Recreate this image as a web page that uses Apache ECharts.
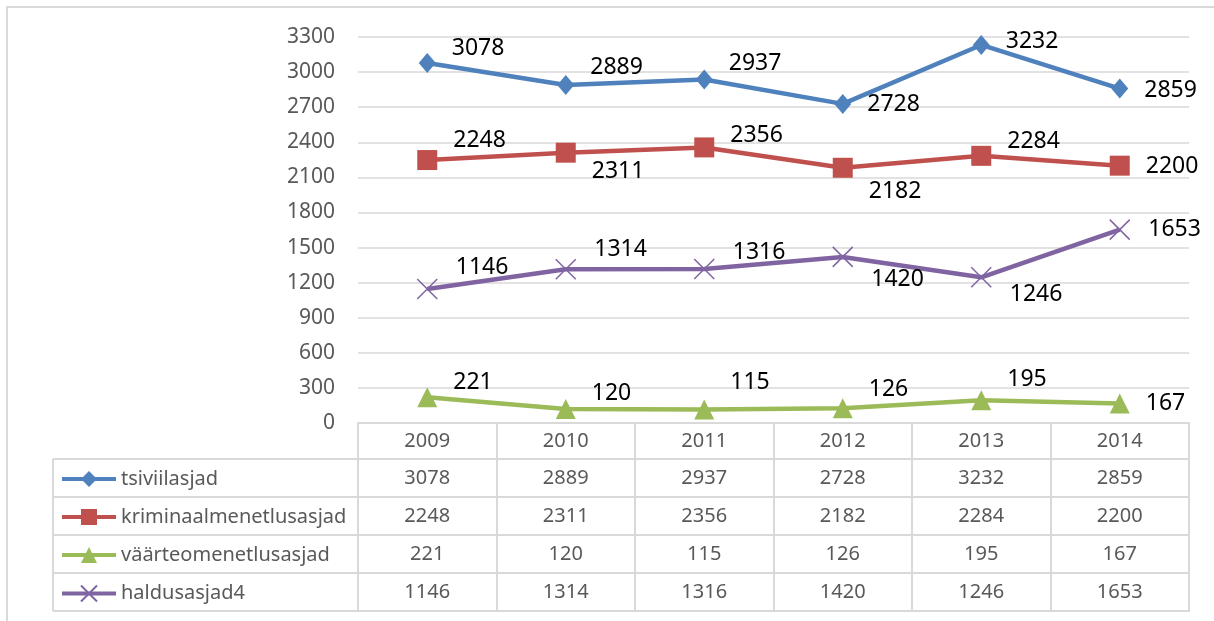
<!DOCTYPE html>
<html>
<head>
<meta charset="utf-8">
<script src="https://cdn.jsdelivr.net/npm/echarts@6/dist/echarts.min.js"></script>
<style>
html,body{margin:0;padding:0;background:#fff;}
#main{width:1214px;height:621px;}
</style>
</head>
<body>
<div id="main"></div>
<script>
var years = ['2009', '2010', '2011', '2012', '2013', '2014'];
var names = ['tsiviilasjad', 'kriminaalmenetlusasjad', 'väärteomenetlusasjad', 'haldusasjad4'];
var tsiviil = [3078, 2889, 2937, 2728, 3232, 2859];
var kriminaal = [2248, 2311, 2356, 2182, 2284, 2200];
var vaarteo = [221, 120, 115, 126, 195, 167];
var haldus = [1146, 1314, 1316, 1420, 1246, 1653];
var yTicks = { min: 0, max: 3300, step: 300 };

// label vertical nudges
var shiftT = [-15, -18, -16, 1, -4, 2];
var shiftK = [-20, 19, -12, 24, -14, 1];
var shiftV = [-15, -16, -27, -19, -21, 0];
var shiftH = [-21, -20, -17, 23, 17, 0];

var grey = '#595959', lineGrey = '#D9D9D9';
var font = 'Noto Sans';

function pts(vals, shift){
  var out = [];
  for(var i=0;i<vals.length;i++){
    out.push({ value: vals[i], label: { offset: [0, shift[i]] } });
  }
  return out;
}

function mkSeries(name, vals, shift, color, symbol, size, extra){
  var s = {
    name: name,
    type: 'line',
    data: pts(vals, shift),
    symbol: symbol,
    symbolSize: size,
    lineStyle: { color: color, width: 4.5 },
    itemStyle: { color: color },
    label: {
      show: true, position: 'right', distance: 16,
      color: '#000', fontSize: 23, fontFamily: font
    },
    emphasis: { disabled: true },
    z: 3
  };
  if(extra){ for(var k in extra) s[k] = extra[k]; }
  return s;
}

var rows = [tsiviil, kriminaal, vaarteo, haldus];
var rowOffsets = [37, 75, 113, 151];

var xAxes = [{
  type: 'category', data: years, gridIndex: 0, position: 'bottom',
  axisLine: { show: true, lineStyle: { color: lineGrey, width: 2 } },
  axisTick: { show: true, interval: 0, length: 189, lineStyle: { color: lineGrey, width: 2 } },
  axisLabel: { interval: 0, margin: 18, verticalAlign: 'middle', color: grey, fontSize: 20, fontFamily: font },
  splitLine: { show: false }
}];
rows.forEach(function(r, idx){
  xAxes.push({
    type: 'category', data: years, position: 'bottom', offset: rowOffsets[idx],
    axisLine: { show: false }, axisTick: { show: false }, splitLine: { show: false },
    axisLabel: {
      interval: 0, margin: 18, verticalAlign: 'middle', color: grey, fontSize: 20, fontFamily: font,
      formatter: function(v, i){ return String(r[i]); }
    }
  });
});

var tableLines = [];
[459, 497, 535, 573, 611].forEach(function(y){
  tableLines.push({ type: 'line', shape: { x1: 53, y1: y, x2: 1189, y2: y }, style: { stroke: lineGrey, lineWidth: 2 } });
});
tableLines.push({ type: 'line', shape: { x1: 53, y1: 459, x2: 53, y2: 611 }, style: { stroke: lineGrey, lineWidth: 2 } });
tableLines.push({ type: 'rect', shape: { x: 7, y: 7, width: 1300, height: 700 }, style: { fill: 'none', stroke: lineGrey, lineWidth: 2 } });

var option = {
  animation: false,
  textStyle: { fontFamily: font },
  grid: { left: 358, right: 25, top: 37, bottom: 198 },
  legend: {
    orient: 'vertical', left: 55, top: 464,
    itemWidth: 54, itemHeight: 20, itemGap: 18,
    data: names,
    lineStyle: { width: 4 },
    textStyle: { color: grey, fontSize: 20, fontFamily: font, lineHeight: 20 }
  },
  xAxis: xAxes,
  yAxis: {
    type: 'value', min: yTicks.min, max: yTicks.max, interval: yTicks.step,
    axisLine: { show: false }, axisTick: { show: false },
    axisLabel: { color: grey, fontSize: 21, margin: 23, fontFamily: font, formatter: function(v){ return String(v); } },
    splitLine: { lineStyle: { color: lineGrey, width: 1.5 } }
  },
  graphic: tableLines,
  series: [
    mkSeries(names[0], tsiviil, shiftT, '#4F81BD', 'diamond', [17, 20]),
    mkSeries(names[1], kriminaal, shiftK, '#C0504D', 'rect', 20),
    mkSeries(names[2], vaarteo, shiftV, '#9BBB59', 'triangle', 20),
    mkSeries(names[3], haldus, shiftH, '#8064A2', 'path://M0,0L20,20M20,0L0,20', 20,
      { itemStyle: { color: 'none', borderColor: '#8064A2', borderWidth: 1.5 } })
  ]
};

var myChart = echarts.init(document.getElementById('main'));
myChart.setOption(option);
</script>
</body>
</html>
